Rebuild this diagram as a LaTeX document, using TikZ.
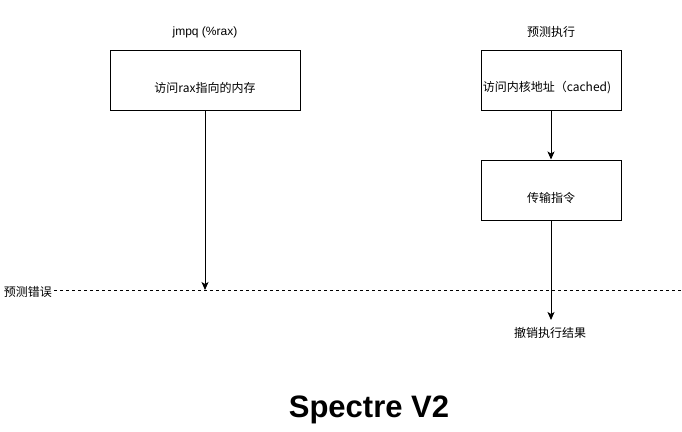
\documentclass[tikz,border=0pt]{standalone}
\usepackage{fontspec}
\setmainfont{Liberation Sans}
\newfontfamily\cjk{Noto Sans CJK SC}
\usetikzlibrary{arrows.meta}
\tikzset{
  px/.style={x=1pt,y=-1pt},
  boxnode/.style={draw,line width=1pt,minimum width=#1,minimum height=60pt,inner sep=0pt},
  lbl/.style={font=\cjk\fontsize{12}{14}\selectfont,inner sep=0pt},
  arr/.style={line width=1pt,-{Stealth[length=8pt,width=7pt,inset=2pt]}},
}
\begin{document}
\begin{tikzpicture}[px]
\path[fill=white,use as bounding box] (0,0) rectangle (682,431);
% titles
\node[font=\fontsize{12}{14}\selectfont,inner sep=0pt] (t1) at (205,32) {jmpq (\%rax)};
\node[lbl] (t2) at (551,32) {预测执行};
% boxes
\node[boxnode=190pt] (b1) at (205,80) {};
\node[lbl] (b1t) at (205,88) {访问rax指向的内存};
\node[boxnode=140pt] (b2) at (551,80) {};
\node[lbl] (b2t) at (547,88) {访问内核地址（cached)};
\node[boxnode=140pt] (b3) at (551,190) {};
\node[lbl] (b3t) at (551,198) {传输指令};
% dashed line
\node[lbl,anchor=east] (err) at (52,292) {预测错误};
\coordinate (dl) at (54,290);
\coordinate (dr) at (682,290);
\draw[line width=1pt,dash pattern=on 3pt off 3pt] (dl) -- (dr);
\coordinate (a1end) at (205,290);
% result
\coordinate (a3end) at (551,320);
\node[lbl] (res) at (550,333) {撤销执行结果};
% arrows
\draw[arr] (b1.south) -- (a1end);
\draw[arr] (b2.south) -- (b3.north);
\draw[arr] (b3.south) -- (a3end);
% big title
\node[font=\bfseries\fontsize{31}{35}\selectfont,inner sep=0pt] (title) at (369,410) {Spectre V2};
\end{tikzpicture}
\end{document}
